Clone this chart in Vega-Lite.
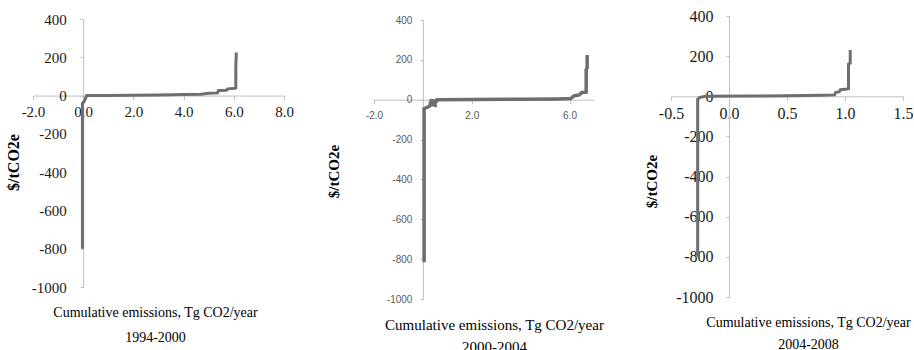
{
  "$schema": "https://vega.github.io/schema/vega-lite/v6.json",
  "autosize": {"type": "pad"},
  "padding": {"left": 5, "top": 8, "right": 0, "bottom": 0},
  "background": "white",
  "spacing": 0,
  "bounds": "flush",
  "config": {
    "view": {"stroke": null},
    "axis": {
      "grid": false,
      "domainColor": "#bfbfbf",
      "tickColor": "#bfbfbf",
      "tickSize": 4,
      "labelFlush": false,
      "labelOverlap": false,
      "labelBound": false,
      "labelFont": "Liberation Serif",
      "labelColor": "#1a1a1a",
      "titleFont": "Liberation Serif",
      "titleColor": "#000000"
    }
  },
  "datasets": {
    "p1": [
      {"i": 1, "x": -0.03, "y": -800},
      {"i": 2, "x": -0.03, "y": -40},
      {"i": 3, "x": 0.04, "y": -30},
      {"i": 4, "x": 0.1, "y": -12},
      {"i": 5, "x": 0.14, "y": 0},
      {"i": 6, "x": 1.0, "y": 1},
      {"i": 7, "x": 2.0, "y": 2},
      {"i": 8, "x": 3.0, "y": 3},
      {"i": 9, "x": 4.0, "y": 5},
      {"i": 10, "x": 4.7, "y": 7},
      {"i": 11, "x": 5.0, "y": 12},
      {"i": 12, "x": 5.35, "y": 14},
      {"i": 13, "x": 5.38, "y": 26},
      {"i": 14, "x": 5.7, "y": 28},
      {"i": 15, "x": 5.76, "y": 35},
      {"i": 16, "x": 6.05, "y": 38},
      {"i": 17, "x": 6.08, "y": 40},
      {"i": 18, "x": 6.08, "y": 150},
      {"i": 19, "x": 6.1, "y": 225}
    ],
    "p2": [
      {"i": 1, "x": 0.05, "y": -815},
      {"i": 2, "x": 0.05, "y": -45},
      {"i": 3, "x": 0.18, "y": -38},
      {"i": 4, "x": 0.28, "y": -32},
      {"i": 5, "x": 0.3, "y": -22},
      {"i": 6, "x": 0.5, "y": -28},
      {"i": 7, "x": 0.5, "y": -15},
      {"i": 8, "x": 0.32, "y": -12},
      {"i": 9, "x": 0.34, "y": -5},
      {"i": 10, "x": 0.55, "y": -8},
      {"i": 11, "x": 0.58, "y": 0},
      {"i": 12, "x": 2.0, "y": 1},
      {"i": 13, "x": 4.0, "y": 2},
      {"i": 14, "x": 5.5, "y": 4},
      {"i": 15, "x": 6.05, "y": 6},
      {"i": 16, "x": 6.12, "y": 14},
      {"i": 17, "x": 6.2, "y": 20},
      {"i": 18, "x": 6.4, "y": 24},
      {"i": 19, "x": 6.5, "y": 36},
      {"i": 20, "x": 6.68, "y": 38},
      {"i": 21, "x": 6.68, "y": 150},
      {"i": 22, "x": 6.72, "y": 160},
      {"i": 23, "x": 6.72, "y": 225}
    ],
    "p3": [
      {"i": 1, "x": -0.27, "y": -800},
      {"i": 2, "x": -0.27, "y": -15},
      {"i": 3, "x": -0.25, "y": -5},
      {"i": 4, "x": -0.2, "y": 0},
      {"i": 5, "x": 0.2, "y": 1},
      {"i": 6, "x": 0.5, "y": 3},
      {"i": 7, "x": 0.8, "y": 5},
      {"i": 8, "x": 0.91, "y": 7},
      {"i": 9, "x": 0.92, "y": 20},
      {"i": 10, "x": 0.95, "y": 22},
      {"i": 11, "x": 0.96, "y": 33},
      {"i": 12, "x": 1.02, "y": 36},
      {"i": 13, "x": 1.03, "y": 38},
      {"i": 14, "x": 1.03, "y": 160},
      {"i": 15, "x": 1.045, "y": 165},
      {"i": 16, "x": 1.045, "y": 230}
    ]
  },
  "hconcat": [
    {
      "width": 341,
      "height": 283,
      "data": {"name": "p1"},
      "mark": {"type": "line", "color": "#6e6e6e", "strokeWidth": 3},
      "encoding": {
        "x": {
          "field": "x", "type": "quantitative",
          "scale": {"domain": [-2, 8], "range": [0, 251], "nice": false, "zero": false},
          "axis": {
            "values": [-2, 0, 2, 4, 6, 8],
            "labelExpr": "replace(format(datum.value, '.1f'), '\u2212', '-')",
            "offset": -203.43, "labelFont": "Liberation Serif", "labelFontSize": 15, "labelPadding": 5,
            "title": ["Cumulative emissions, Tg CO2/year", "1994-2000"],
            "titleFontSize": 14, "titleFontWeight": "normal", "titleLineHeight": 25,
            "titleX": 122, "titleY": 210, "titleAlign": "center", "titleBaseline": "top"
          }
        },
        "y": {
          "field": "y", "type": "quantitative",
          "scale": {"domain": [-1000, 400], "range": [271, 3], "nice": false, "zero": false},
          "axis": {
            "values": [-1000, -800, -600, -400, -200, 0, 200, 400],
            "labelExpr": "'' + datum.value",
            "offset": -50.2, "labelFont": "Liberation Serif", "labelFontSize": 15, "tickSize": 3, "labelPadding": 14,
            "title": "$/tCO2e", "titleFontSize": 16, "titleFontWeight": "bold",
            "titleAngle": -90, "titleX": -70.2, "titleY": 146,
            "titleAlign": "center", "titleBaseline": "middle"
          }
        },
        "order": {"field": "i", "type": "quantitative"}
      }
    },
    {
      "width": 297,
      "height": 283,
      "data": {"name": "p2"},
      "mark": {"type": "line", "color": "#6e6e6e", "strokeWidth": 3.5},
      "encoding": {
        "x": {
          "field": "x", "type": "quantitative",
          "scale": {"domain": [-2, 7], "range": [0, 220], "nice": false, "zero": false},
          "axis": {
            "values": [-2, 2, 6],
            "labelExpr": "replace(format(datum.value, '.1f'), '\u2212', '-')",
            "offset": -199.29, "labelFont": "Liberation Sans", "labelFontSize": 10,
            "labelColor": "#595959", "labelPadding": 7,
            "title": ["Cumulative emissions, Tg CO2/year", "2000-2004"],
            "titleFontSize": 15, "titleFontWeight": "normal", "titleLineHeight": 22,
            "titleX": 120, "titleY": 218, "titleAlign": "center", "titleBaseline": "top"
          }
        },
        "y": {
          "field": "y", "type": "quantitative",
          "scale": {"domain": [-1000, 400], "range": [283, 4], "nice": false, "zero": false},
          "axis": {
            "values": [-1000, -800, -600, -400, -200, 0, 200, 400],
            "labelExpr": "'' + datum.value",
            "offset": -48.89, "labelFont": "Liberation Sans", "labelFontSize": 10,
            "labelColor": "#595959", "tickSize": 3, "labelPadding": 8,
            "title": "$/tCO2e", "titleFontSize": 15, "titleFontWeight": "bold",
            "titleAngle": -90, "titleX": -88.9, "titleY": 155,
            "titleAlign": "center", "titleBaseline": "middle"
          }
        },
        "order": {"field": "i", "type": "quantitative"}
      }
    },
    {
      "width": 232,
      "height": 283,
      "data": {"name": "p3"},
      "mark": {"type": "line", "color": "#6e6e6e", "strokeWidth": 3},
      "encoding": {
        "x": {
          "field": "x", "type": "quantitative",
          "scale": {"domain": [-0.5, 1.5], "range": [0, 232], "nice": false, "zero": false},
          "axis": {
            "values": [-0.5, 0, 0.5, 1, 1.5],
            "labelExpr": "replace(format(datum.value, '.1f'), '\u2212', '-')",
            "offset": -202.71, "labelFont": "Liberation Serif", "labelFontSize": 16, "labelPadding": 5,
            "title": ["Cumulative emissions, Tg CO2/year", "2004-2008"],
            "titleFontSize": 14, "titleFontWeight": "normal", "titleLineHeight": 22,
            "titleX": 137, "titleY": 219, "titleAlign": "center", "titleBaseline": "top"
          }
        },
        "y": {
          "field": "y", "type": "quantitative",
          "scale": {"domain": [-1000, 400], "range": [281, 0], "nice": false, "zero": false},
          "axis": {
            "values": [-1000, -800, -600, -400, -200, 0, 200, 400],
            "labelExpr": "'' + datum.value",
            "offset": -58, "labelFont": "Liberation Serif", "labelFontSize": 16, "tickSize": 3, "labelPadding": 13,
            "title": "$/tCO2e", "titleFontSize": 15, "titleFontWeight": "bold",
            "titleAngle": -90, "titleX": -78, "titleY": 165,
            "titleAlign": "center", "titleBaseline": "middle"
          }
        },
        "order": {"field": "i", "type": "quantitative"}
      }
    }
  ]
}
